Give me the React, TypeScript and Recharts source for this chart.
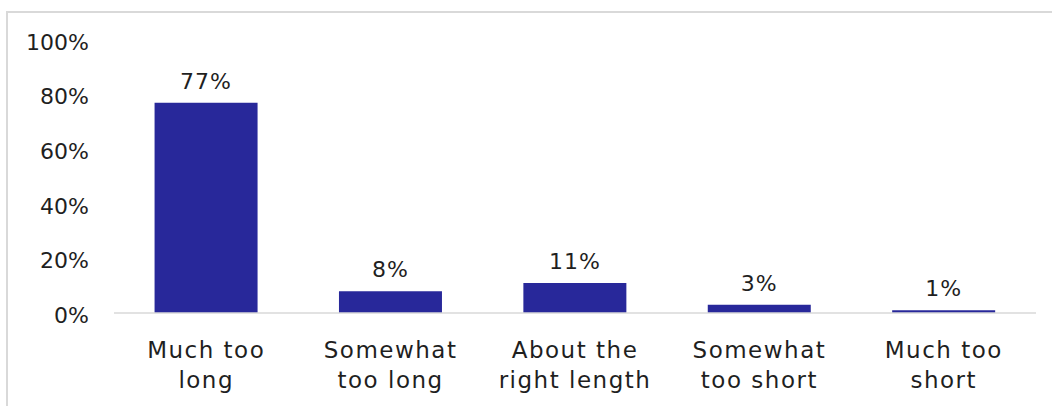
import React from "react";
import { BarChart, Bar, XAxis, YAxis, LabelList } from "recharts";

// Survey answers and their share of respondents (%)
const categories = [
  "Much too long",
  "Somewhat too long",
  "About the right length",
  "Somewhat too short",
  "Much too short",
];
const categoryLines = [
  ["Much too", "long"],
  ["Somewhat", "too long"],
  ["About the", "right length"],
  ["Somewhat", "too short"],
  ["Much too", "short"],
];
const shares = [77, 8, 11, 3, 1];
const yTicks = [0, 20, 40, 60, 80, 100];

const data = categories.map((name, i) => ({ name, value: shares[i], lines: categoryLines[i] }));

const FONT = "'DejaVu Sans', sans-serif";
const TEXT = "#1f1f1f";
const BAR = "#28289a";
const RULE = "#d9d9d9";

const CategoryTick = (props: any) => {
  const { x, y, index } = props;
  const lines = categoryLines[index] || [];
  return (
    <g>
      {lines.map((line, k) => (
        <text
          key={k}
          x={x}
          y={y + 45 + k * 30}
          textAnchor="middle"
          fill={TEXT}
          fontFamily={FONT}
          fontSize={23}
          letterSpacing={1.5}
        >
          {line}
        </text>
      ))}
    </g>
  );
};

export default function App() {
  return (
    <div
      style={{
        position: "absolute",
        left: 0,
        top: 0,
        width: 1052,
        height: 406,
        overflow: "hidden",
        background: "#fff",
      }}
    >
      <div
        style={{
          position: "absolute",
          left: 6,
          top: 11,
          width: 1200,
          height: 600,
          border: `2px solid ${RULE}`,
          boxSizing: "border-box",
        }}
      />
      <div style={{ position: "absolute", left: 0, top: 0 }}>
        <BarChart
          width={1052}
          height={406}
          data={data}
          margin={{ top: 40, right: 16, bottom: 0, left: 0 }}
          barCategoryGap="22%"
        >
          <XAxis
            dataKey="name"
            height={93}
            tickLine={false}
            tickSize={0}
            tickMargin={0}
            axisLine={{ stroke: RULE, strokeWidth: 1.5 }}
            tick={<CategoryTick />}
            interval={0}
          />
          <YAxis
            width={114}
            domain={[0, 100]}
            ticks={yTicks}
            axisLine={false}
            tickLine={false}
            tickSize={0}
            tickMargin={25}
            tickFormatter={(v: number) => `${v}%`}
            tick={{ fill: TEXT, fontFamily: FONT, fontSize: 22, dy: 2 }}
          />
          <Bar dataKey="value" fill={BAR} isAnimationActive={false}>
            <LabelList
              dataKey="value"
              position="top"
              offset={14}
              formatter={(v: number) => `${v}%`}
              fill={TEXT}
              fontFamily={FONT}
              fontSize={22}
              letterSpacing={1}
            />
          </Bar>
        </BarChart>
      </div>
    </div>
  );
}
